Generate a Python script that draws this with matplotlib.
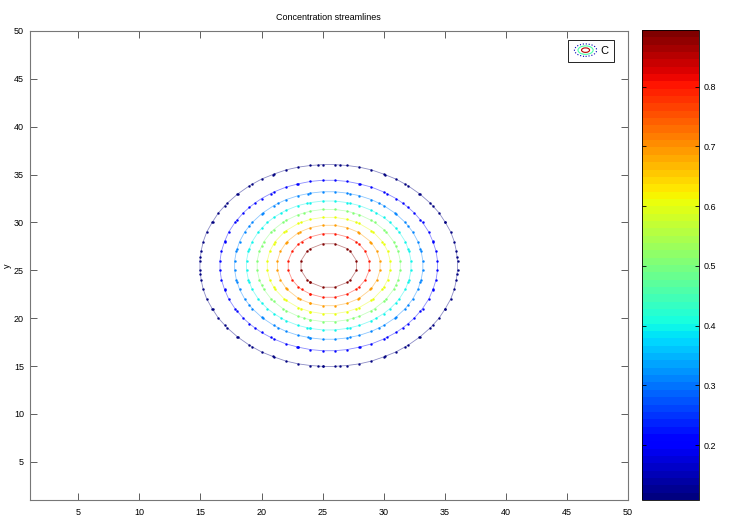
import numpy as np
import matplotlib
matplotlib.use("Agg")
import matplotlib.pyplot as plt
from matplotlib.colors import Normalize
from matplotlib.cm import ScalarMappable
from matplotlib.patches import Ellipse
from matplotlib.legend_handler import HandlerBase
from matplotlib.lines import Line2D

# ---- data ----
grid_x = np.arange(1, 51)          # grid nodes in x
grid_y = np.arange(1, 51)          # grid nodes in y
center_x = 25.5                    # plume centre
center_y = 25.5
sigma = 5.0                        # spread of the concentration blob
peak = 1.0                         # peak concentration
levels = [0.108, 0.206, 0.305, 0.403, 0.502, 0.600, 0.698, 0.797, 0.895]
x_ticks = [5, 10, 15, 20, 25, 30, 35, 40, 45, 50]
y_ticks = [5, 10, 15, 20, 25, 30, 35, 40, 45, 50]
cbar_ticks = [0.2, 0.3, 0.4, 0.5, 0.6, 0.7, 0.8]
title = "Concentration streamlines"
legend_label = "C"

X, Y = np.meshgrid(grid_x, grid_y)
Z = peak * np.exp(-((X - center_x) ** 2 + (Y - center_y) ** 2) / (2 * sigma ** 2))

plt.rcParams['font.family'] = ['Liberation Sans', 'DejaVu Sans']
FS = 6.5
W, H = 747, 522
fig = plt.figure(figsize=(W / 100, H / 100), dpi=100)

ax = fig.add_axes([29.5 / W, (H - 500) / H, (628 - 29.5) / W, (500 - 31) / H])
cmap = plt.get_cmap('jet', 64)
norm = Normalize(vmin=levels[0], vmax=levels[-1])

cs = ax.contour(X, Y, Z, levels=levels, cmap=cmap, norm=norm, linewidths=0.6,
                alpha=0.45)
for lev, segs in zip(cs.levels, cs.allsegs):
    col = cmap(norm(lev))
    for seg in segs:
        ax.plot(seg[:, 0], seg[:, 1], linestyle='none', marker='.', ms=1.6,
                color=col, mec=col, alpha=0.9)

ax.set_xlim(1, 50)
ax.set_ylim(1, 50)
ax.set_xticks(x_ticks)
ax.set_yticks(y_ticks)
ax.tick_params(direction='in', length=5, width=0.6, colors='#444444',
               labelsize=FS, top=True, right=True, pad=4)
ax.tick_params(axis='x', pad=6)
for lab in ax.get_xticklabels() + ax.get_yticklabels():
    lab.set_color('black')
for sp in ax.spines.values():
    sp.set_color('#777777')
    sp.set_linewidth(0.8)
ax.set_title(title, fontsize=FS, pad=8)
ax.set_ylabel('y', fontsize=FS)
ax.yaxis.set_label_coords((12 - 29.5) / (628 - 29.5), 0.5)


class ContourIconHandler(HandlerBase):
    def create_artists(self, legend, orig_handle, xdescent, ydescent,
                       width, height, fontsize, trans):
        cx = width / 2 - xdescent
        cy = height / 2 - ydescent
        arts = []
        specs = [(1.0, cmap(0.05), ':'), (0.68, cmap(0.45), '-'), (0.36, cmap(0.95), '-')]
        for s, c, ls in specs:
            e = Ellipse((cx, cy), width * s, height * 1.6 * s, fill=False,
                        edgecolor=c, linestyle=ls, linewidth=0.8, transform=trans)
            arts.append(e)
        return arts


proxy = Line2D([], [])
leg = ax.legend([proxy], [legend_label], handler_map={Line2D: ContourIconHandler()},
                loc='upper right', bbox_to_anchor=(0.977, 0.981), borderaxespad=0,
                fontsize=FS + 1.5, fancybox=False, framealpha=1, edgecolor='black',
                handlelength=2.0, handletextpad=0.3, borderpad=0.55)
leg.get_frame().set_linewidth(0.6)

cax = fig.add_axes([642 / W, (H - 500) / H, (699 - 642) / W, (500 - 30) / H])
sm = ScalarMappable(norm=norm, cmap=cmap)
cb = fig.colorbar(sm, cax=cax)
cb.set_ticks(cbar_ticks)
cb.ax.tick_params(direction='in', length=3, width=0.6, labelsize=FS,
                  left=True, right=True, pad=3)
cb.outline.set_linewidth(0.6)

fig.savefig('out.png', dpi=100)
